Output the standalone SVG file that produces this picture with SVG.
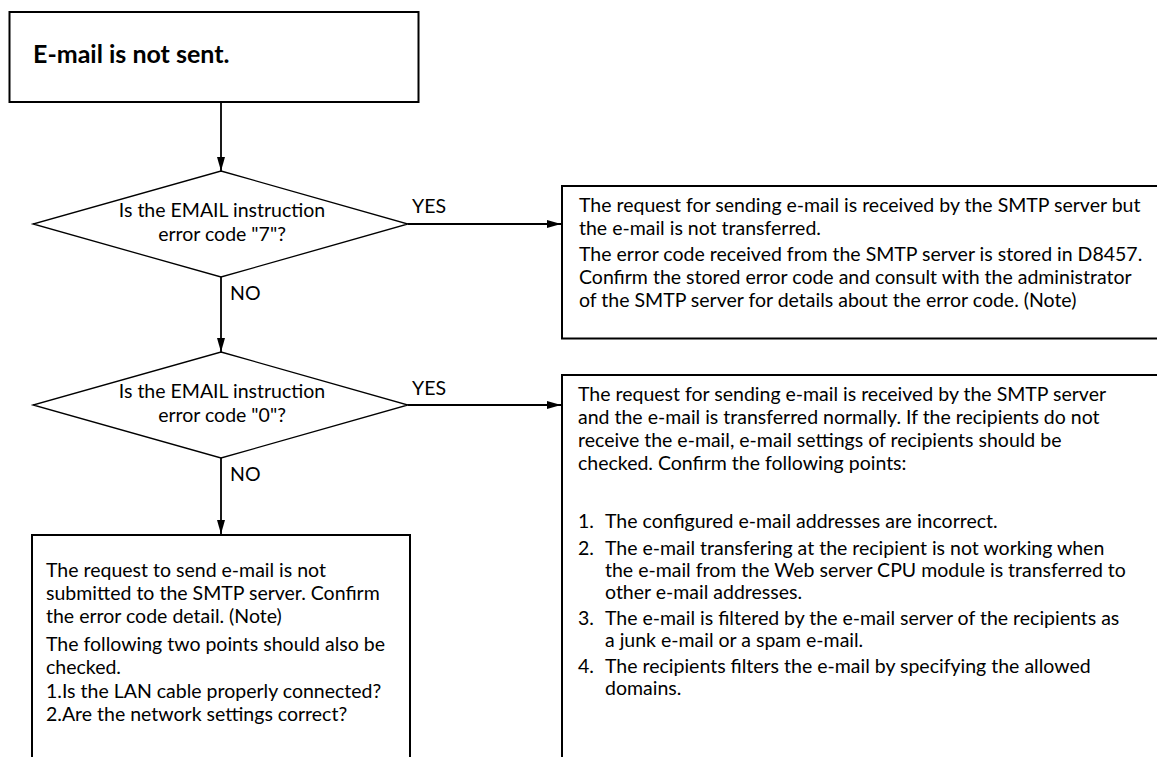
<svg xmlns="http://www.w3.org/2000/svg" width="1157" height="757" viewBox="0 0 1157 757">
<style>
  .box { fill: #fff; stroke: #000; stroke-width: 2; }
  .dia { fill: #fff; stroke: #000; stroke-width: 1.3; }
  .t { font-family: Lato, "Liberation Sans", sans-serif; font-size: 19.5px; fill: #000; }
  .c { text-anchor: middle; }
  .title { font-family: Lato, "Liberation Sans", sans-serif; font-size: 25px; font-weight: bold; fill: #000; }
  .conn { stroke: #000; stroke-width: 1.8; fill: none; marker-end: url(#arr); }
</style>
<defs>
  <marker id="arr" markerWidth="14" markerHeight="8" refX="14" refY="4" orient="auto" markerUnits="userSpaceOnUse">
    <path d="M0,0 L14,4 L0,8 z" fill="#000"/>
  </marker>
</defs>
<rect width="1157" height="757" fill="#fff"/>

<g id="start">
  <rect class="box" x="9.5" y="12" width="409" height="90"/>
  <text class="title" x="33" y="63">E-mail is not sent.</text>
</g>

<g id="q1">
  <polygon class="dia" points="221,171 408,224 221,277 33,224"/>
  <text class="t c" x="222" y="217">Is the EMAIL instruction</text>
  <text class="t c" x="222" y="241">error code "7"?</text>
</g>

<g id="q2">
  <polygon class="dia" points="221,352 408,405 221,458 33,405"/>
  <text class="t c" x="222" y="398">Is the EMAIL instruction</text>
  <text class="t c" x="222" y="422">error code "0"?</text>
</g>

<g id="r1">
  <rect class="box" x="562" y="186" width="620" height="152.5"/>
  <text class="t" x="579" y="212">The request for sending e-mail is received by the SMTP server but</text>
  <text class="t" x="579" y="235">the e-mail is not transferred.</text>
  <text class="t" x="579" y="261">The error code received from the SMTP server is stored in D8457.</text>
  <text class="t" x="579" y="284">Confirm the stored error code and consult with the administrator</text>
  <text class="t" x="579" y="307">of the SMTP server for details about the error code. (Note)</text>
</g>

<g id="r2">
  <rect class="box" x="562" y="375" width="620" height="420"/>
  <text class="t" x="578" y="401">The request for sending e-mail is received by the SMTP server</text>
  <text class="t" x="578" y="424">and the e-mail is transferred normally. If the recipients do not</text>
  <text class="t" x="578" y="447">receive the e-mail, e-mail settings of recipients should be</text>
  <text class="t" x="578" y="470">checked. Confirm the following points:</text>
  <text class="t" x="578" y="528">1.</text>
  <text class="t" x="605" y="528">The configured e-mail addresses are incorrect.</text>
  <text class="t" x="578" y="555">2.</text>
  <text class="t" x="605" y="555">The e-mail transfering at the recipient is not working when</text>
  <text class="t" x="605" y="577">the e-mail from the Web server CPU module is transferred to</text>
  <text class="t" x="605" y="599">other e-mail addresses.</text>
  <text class="t" x="578" y="625">3.</text>
  <text class="t" x="605" y="625">The e-mail is filtered by the e-mail server of the recipients as</text>
  <text class="t" x="605" y="647">a junk e-mail or a spam e-mail.</text>
  <text class="t" x="578" y="673">4.</text>
  <text class="t" x="605" y="673">The recipients filters the e-mail by specifying the allowed</text>
  <text class="t" x="605" y="695">domains.</text>
</g>

<g id="r3">
  <rect class="box" x="32" y="535" width="378" height="240"/>
  <text class="t" x="46" y="577">The request to send e-mail is not</text>
  <text class="t" x="46" y="600">submitted to the SMTP server. Confirm</text>
  <text class="t" x="46" y="623">the error code detail. (Note)</text>
  <text class="t" x="46" y="651">The following two points should also be</text>
  <text class="t" x="46" y="674">checked.</text>
  <text class="t" x="46" y="698">1.Is the LAN cable properly connected?</text>
  <text class="t" x="46" y="721">2.Are the network settings correct?</text>
</g>

<g id="connectors">
  <line class="conn" x1="221" y1="102" x2="221" y2="171"/>
  <line class="conn" x1="408" y1="224" x2="561" y2="224"/>
  <line class="conn" x1="221" y1="277" x2="221" y2="352"/>
  <line class="conn" x1="408" y1="405" x2="561" y2="405"/>
  <line class="conn" x1="221" y1="458" x2="221" y2="534"/>
  <text class="t" x="412" y="213">YES</text>
  <text class="t" x="230" y="300">NO</text>
  <text class="t" x="412" y="395">YES</text>
  <text class="t" x="230" y="481">NO</text>
</g>
</svg>
